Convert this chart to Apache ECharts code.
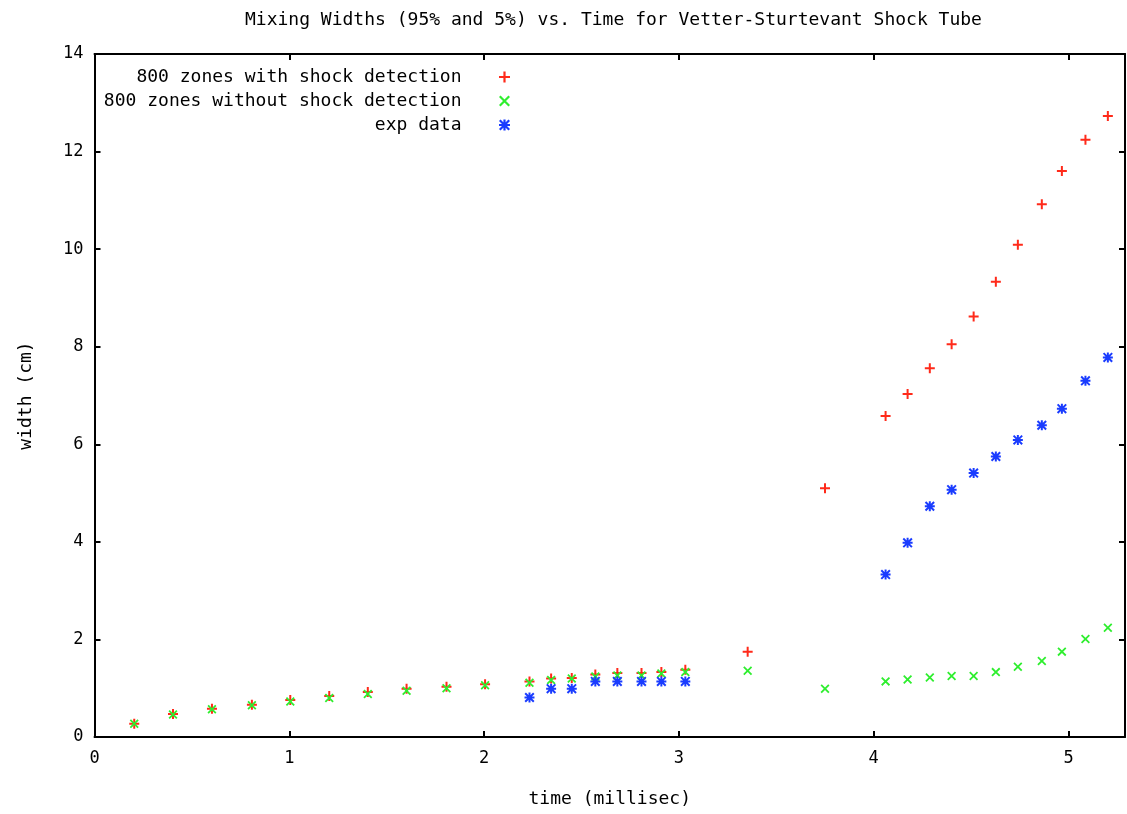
<!DOCTYPE html>
<html>
<head>
<meta charset="utf-8">
<script src="https://cdn.jsdelivr.net/npm/echarts@6/dist/echarts.min.js"></script>
<style>html,body{margin:0;padding:0;background:#fff}#c{width:1127px;height:814px}</style>
</head>
<body>
<div id="c"></div>
<script>
const titleText = 'Mixing Widths (95% and 5%) vs. Time for Vetter-Sturtevant Shock Tube';
const xName = 'time (millisec)';
const yName = 'width (cm)';
const seriesNames = ['800 zones with shock detection', '800 zones without shock detection', 'exp data'];

const simTimes = [0.204, 0.403, 0.603, 0.808, 1.005, 1.205, 1.403, 1.602, 1.807, 2.005,
  2.233, 2.344, 2.45, 2.571, 2.684, 2.808, 2.91, 3.033, 3.353, 3.75,
  4.061, 4.174, 4.288, 4.40, 4.513, 4.627, 4.74, 4.863, 4.966, 5.087, 5.202];
const withShock = [0.27, 0.47, 0.58, 0.66, 0.76, 0.84, 0.92, 0.99, 1.03, 1.08,
  1.14, 1.20, 1.21, 1.28, 1.31, 1.31, 1.33, 1.38, 1.745, 5.10,
  6.58, 7.03, 7.56, 8.05, 8.62, 9.33, 10.09, 10.92, 11.60, 12.24, 12.73];
const withoutShock = [0.27, 0.46, 0.57, 0.65, 0.73, 0.80, 0.88, 0.95, 1.00, 1.06,
  1.11, 1.17, 1.20, 1.24, 1.26, 1.26, 1.30, 1.33, 1.36, 0.99,
  1.14, 1.18, 1.22, 1.25, 1.25, 1.33, 1.44, 1.56, 1.75, 2.01, 2.24];
const expTimes = [2.233, 2.344, 2.45, 2.571, 2.684, 2.808, 2.91, 3.033,
  4.061, 4.174, 4.288, 4.40, 4.513, 4.627, 4.74, 4.863, 4.966, 5.087, 5.202];
const expVals = [0.81, 0.99, 0.99, 1.14, 1.14, 1.14, 1.14, 1.14,
  3.33, 3.98, 4.73, 5.07, 5.41, 5.75, 6.09, 6.39, 6.73, 7.30, 7.78];

const xTicks = [0, 1, 2, 3, 4, 5];
const yTicks = [0, 2, 4, 6, 8, 10, 12, 14];

const PLUS = 'path://M4,0H6V10H4Z M0,4H10V6H0Z';
const CROSS = 'path://M0,1.4L1.4,0L10,8.6L8.6,10Z M8.6,0L10,1.4L1.4,10L0,8.6Z';
const STAR = 'path://M4,0H6V10H4Z M0,4H10V6H0Z M0,1.4L1.4,0L10,8.6L8.6,10Z M8.6,0L10,1.4L1.4,10L0,8.6Z';
const colors = ['#ff2a1a', '#2eee2e', '#1a3cff'];
const FONT = 'DejaVu Sans Mono';

const zip = (xs, ys) => xs.map((x, i) => [x, ys[i]]);

const chart = echarts.init(document.getElementById('c'), null, {renderer: 'canvas'});
const axisCommon = {
  type: 'value',
  axisLine: {show: true, onZero: false, lineStyle: {color: '#000', width: 2}},
  axisTick: {show: true, inside: true, length: 6, lineStyle: {color: '#000', width: 2}},
  splitLine: {show: false}
};
chart.setOption({
  animation: false,
  backgroundColor: '#fff',
  title: {
    text: titleText, left: 240, top: 6,
    textStyle: {fontFamily: FONT, fontSize: 18, fontWeight: 'normal', color: '#000'}
  },
  legend: {
    orient: 'vertical', align: 'right', right: 617, top: 68,
    itemWidth: 11, itemHeight: 11, itemGap: 6, padding: 0,
    formatter: name => name + '   ',
    textStyle: {fontFamily: FONT, fontSize: 18, color: '#000'},
    data: seriesNames
  },
  grid: {left: 94.5, right: 2, top: 54, bottom: 77, containLabel: false},
  xAxis: [
    Object.assign({}, axisCommon, {
      min: 0, max: 5.29, interval: 1, position: 'bottom',
      name: xName, nameLocation: 'middle', nameGap: 53,
      nameTextStyle: {fontFamily: FONT, fontSize: 18, color: '#000'},
      axisLabel: {margin: 13, showMaxLabel: false, fontFamily: FONT, fontSize: 17, color: '#000',
        formatter: v => (xTicks.indexOf(v) >= 0 ? String(v) : '')}
    }),
    Object.assign({}, axisCommon, {
      min: 0, max: 5.29, interval: 1, position: 'top',
      axisLabel: {show: false}
    })
  ],
  yAxis: [
    Object.assign({}, axisCommon, {
      min: 0, max: 14, interval: 2, position: 'left',
      name: yName, nameLocation: 'middle', nameGap: 59,
      nameTextStyle: {fontFamily: FONT, fontSize: 18, color: '#000'},
      axisLabel: {margin: 11, fontFamily: FONT, fontSize: 17, color: '#000',
        formatter: v => (yTicks.indexOf(v) >= 0 ? String(v) : '')}
    }),
    Object.assign({}, axisCommon, {
      min: 0, max: 14, interval: 2, position: 'right',
      axisLabel: {show: false}
    })
  ],
  series: [
    {name: seriesNames[0], type: 'scatter', symbol: PLUS, symbolSize: 10,
     itemStyle: {color: colors[0], opacity: 1}, data: zip(simTimes, withShock)},
    {name: seriesNames[1], type: 'scatter', symbol: CROSS, symbolSize: 9,
     itemStyle: {color: colors[1], opacity: 1}, data: zip(simTimes, withoutShock)},
    {name: seriesNames[2], type: 'scatter', symbol: STAR, symbolSize: 10,
     itemStyle: {color: colors[2], opacity: 1}, data: zip(expTimes, expVals)}
  ]
});
</script>
</body>
</html>
